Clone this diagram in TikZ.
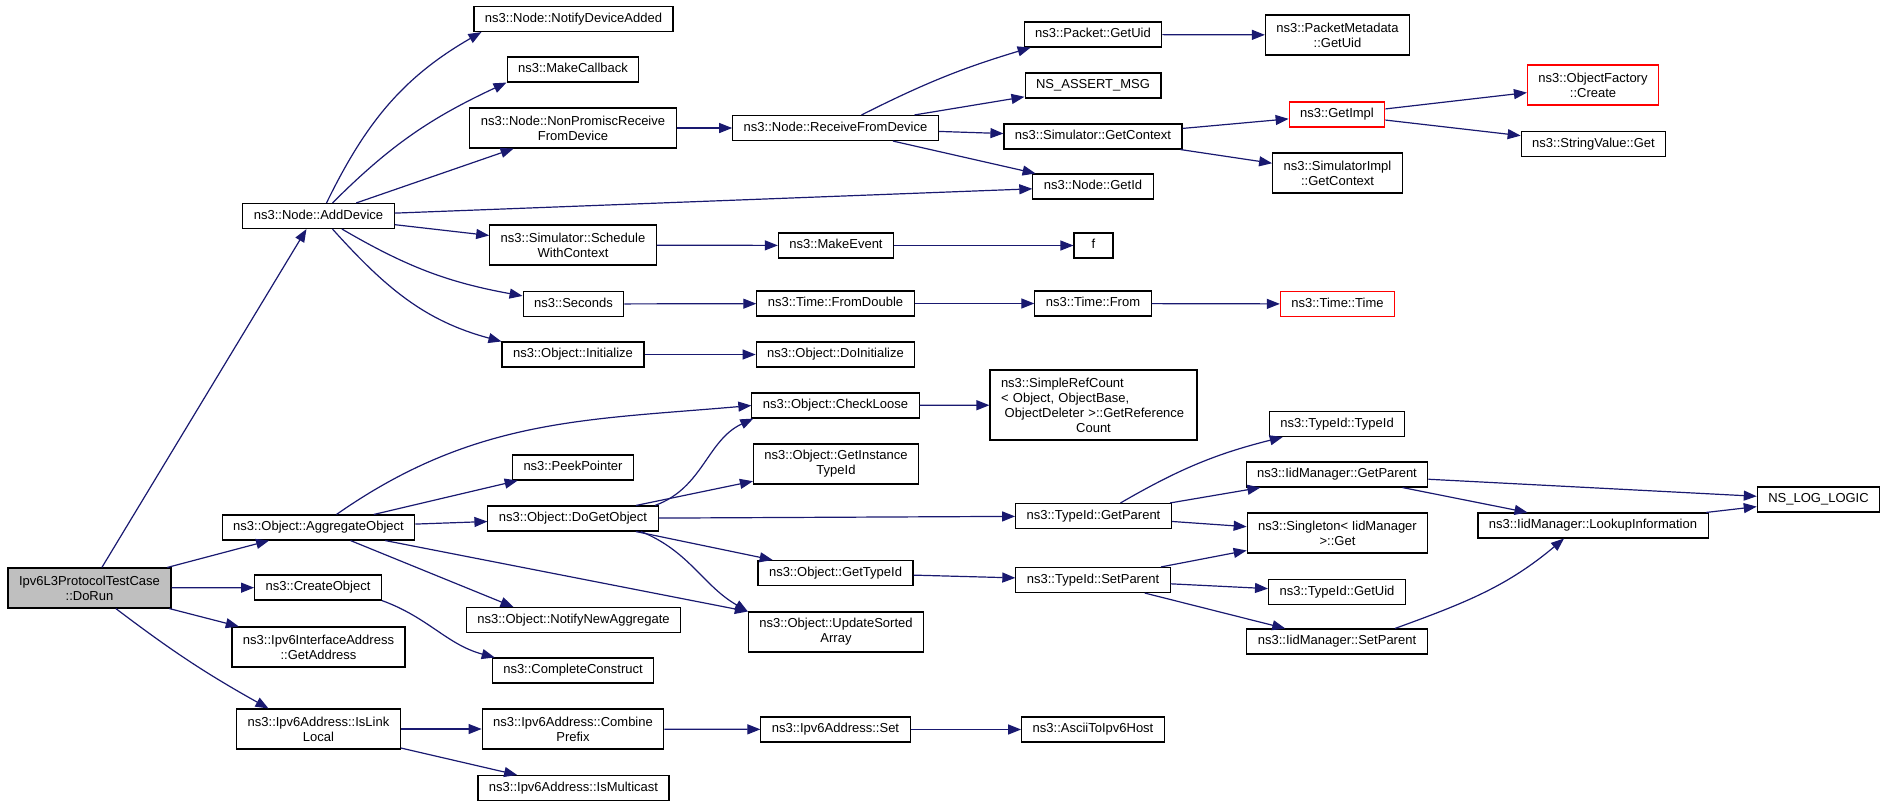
\documentclass[tikz,border=0pt]{standalone}
\usepackage{fontspec}
\newfontfamily\dxfont{Liberation Sans}
\usetikzlibrary{arrows.meta}
\setlength{\parindent}{0pt}
\definecolor{edgeblue}{RGB}{25,25,112}
\definecolor{rootgray}{RGB}{191,191,191}
\tikzset{
  fn/.style={draw=black,line width=1.1pt,fill=white,font=\dxfont\fontsize{13}{15}\selectfont,inner xsep=11pt,inner ysep=2pt,align=center},
  f1/.style={fn,minimum height=25pt,text height=9.5pt,text depth=2.8pt},
  f2/.style={fn,minimum height=40pt},
  cut/.style={draw=red},
  call/.style={draw=edgeblue,line width=1.2pt,-{Triangle[length=13pt,width=10pt]}}
}
\begin{document}
\begin{tikzpicture}[x=1pt,y=1pt]
\useasboundingbox (0,0) rectangle (1885,-807);
\node[f2,fill=rootgray] (dorun) at (89.5,-588) {Ipv6L3ProtocolTestCase\\::DoRun};
\node[f1] (adddevice) at (318.5,-216) {ns3::Node::AddDevice};
\node[f1] (aggregate) at (318.5,-527.5) {ns3::Object::AggregateObject};
\node[f1] (createobject) at (318,-587.5) {ns3::CreateObject};
\node[f2] (getaddress) at (318.5,-647) {ns3::Ipv6InterfaceAddress\\::GetAddress};
\node[f2] (islinklocal) at (318.5,-729) {ns3::Ipv6Address::IsLink\\Local};
\node[f1] (notifyadded) at (573.5,-19) {ns3::Node::NotifyDeviceAdded};
\node[f1] (makecallback) at (573,-69.5) {ns3::MakeCallback};
\node[f2] (nonpromisc) at (573,-128) {ns3::Node::NonPromiscReceive\\FromDevice};
\node[f2] (schedule) at (573,-245) {ns3::Simulator::Schedule\\WithContext};
\node[f1] (seconds) at (573.5,-304) {ns3::Seconds};
\node[f1] (initialize) at (573,-354.5) {ns3::Object::Initialize};
\node[f1] (peekpointer) at (573,-467.5) {ns3::PeekPointer};
\node[f1] (dogetobject) at (573,-518.5) {ns3::Object::DoGetObject};
\node[f1] (notifynew) at (573.5,-620) {ns3::Object::NotifyNewAggregate};
\node[f1] (completeconstruct) at (573,-670.5) {ns3::CompleteConstruct};
\node[f2] (combineprefix) at (573,-729) {ns3::Ipv6Address::Combine\\Prefix};
\node[f1] (ismulticast) at (573.5,-788) {ns3::Ipv6Address::IsMulticast};
\node[f1] (receivefromdevice) at (835.5,-128) {ns3::Node::ReceiveFromDevice};
\node[f1] (makeevent) at (836,-245.5) {ns3::MakeEvent};
\node[f1] (fromdouble) at (835.5,-303.5) {ns3::Time::FromDouble};
\node[f1] (doinitialize) at (835.5,-354.5) {ns3::Object::DoInitialize};
\node[f1] (checkloose) at (835.5,-405.5) {ns3::Object::CheckLoose};
\node[f2] (getinstancetypeid) at (836,-464) {ns3::Object::GetInstance\\TypeId};
\node[f1] (objgettypeid) at (835.5,-573) {ns3::Object::GetTypeId};
\node[f2] (updatesorted) at (836,-632) {ns3::Object::UpdateSorted\\Array};
\node[f1] (ipv6set) at (835.5,-729.5) {ns3::Ipv6Address::Set};
\node[f1] (packetgetuid) at (1093,-34.5) {ns3::Packet::GetUid};
\node[f1] (nsassert) at (1093,-85.5) {NS\_ASSERT\_MSG};
\node[f1] (simgetcontext) at (1093,-136.5) {ns3::Simulator::GetContext};
\node[f1] (nodegetid) at (1093,-186.5) {ns3::Node::GetId};
\node[f1,minimum width=39pt] (fnf) at (1093.5,-245.5) {f};
\node[f1] (timefrom) at (1093,-303.5) {ns3::Time::From};
\node[fn,minimum height=70pt,text width=185pt,align=left] (simplerefcount) at (1093.5,-405) {ns3::SimpleRefCount\\< Object, ObjectBase,\\\hspace*{0.28em}ObjectDeleter >::GetReference\\\makebox[\hsize]{Count}};
\node[f1] (typeidgetparent) at (1093.5,-516) {ns3::TypeId::GetParent};
\node[f1] (typeidsetparent) at (1093,-580) {ns3::TypeId::SetParent};
\node[f1] (asciitoipv6) at (1093,-729.5) {ns3::AsciiToIpv6Host};
\node[f2] (metadatagetuid) at (1337.5,-35) {ns3::PacketMetadata\\::GetUid};
\node[f1,cut] (getimpl) at (1337,-114.5) {ns3::GetImpl};
\node[f2] (simimplgetcontext) at (1337.5,-173) {ns3::SimulatorImpl\\::GetContext};
\node[f1,cut] (timetime) at (1337.5,-304) {ns3::Time::Time};
\node[f1] (typeidtypeid) at (1337,-424) {ns3::TypeId::TypeId};
\node[f1] (iidgetparent) at (1337,-474.5) {ns3::IidManager::GetParent};
\node[f2] (singletonget) at (1337.5,-533) {ns3::Singleton< IidManager\\>::Get};
\node[f1] (typeidgetuid) at (1337,-592) {ns3::TypeId::GetUid};
\node[f1] (iidsetparent) at (1337,-641.5) {ns3::IidManager::SetParent};
\node[f2,cut] (objfactorycreate) at (1593,-85) {ns3::ObjectFactory\\::Create};
\node[f1] (stringvalueget) at (1593.5,-144) {ns3::StringValue::Get};
\node[f1] (lookupinfo) at (1593,-525.5) {ns3::IidManager::LookupInformation};
\node[f1] (nsloglogic) at (1818.5,-499.5) {NS\_LOG\_LOGIC};
\foreach \a/\b in {dorun/aggregate,dorun/createobject,dorun/getaddress,
  adddevice/nonpromisc,adddevice/nodegetid,adddevice/schedule,nonpromisc/receivefromdevice,
  receivefromdevice/nsassert,receivefromdevice/simgetcontext,receivefromdevice/nodegetid,
  packetgetuid/metadatagetuid,simgetcontext/getimpl,simgetcontext/simimplgetcontext,
  getimpl/objfactorycreate,getimpl/stringvalueget,schedule/makeevent,makeevent/fnf,
  seconds/fromdouble,fromdouble/timefrom,timefrom/timetime,initialize/doinitialize,
  checkloose/simplerefcount,aggregate/peekpointer,aggregate/dogetobject,
  dogetobject/getinstancetypeid,dogetobject/typeidgetparent,dogetobject/objgettypeid,
  islinklocal/combineprefix,islinklocal/ismulticast,combineprefix/ipv6set,ipv6set/asciitoipv6,
  objgettypeid/typeidsetparent,typeidgetparent/iidgetparent,typeidgetparent/singletonget,
  typeidsetparent/singletonget,typeidsetparent/typeidgetuid,typeidsetparent/iidsetparent,
  iidgetparent/nsloglogic,iidgetparent/lookupinfo,lookupinfo/nsloglogic}
  \draw[call] (\a) -- (\b);
\draw[call] (dorun) -- ([xshift=-12pt]adddevice.south);
\draw[call] (dorun) to[bend right=4] ([xshift=-50pt]islinklocal.north);
\draw[call] ([xshift=8pt]adddevice.north) to[out=64,in=210] ([xshift=8pt]notifyadded.south west);
\draw[call] ([xshift=14pt]adddevice.north) to[out=45,in=205] (makecallback.south west);
\draw[call] (adddevice) to[bend right=10] (seconds);
\draw[call] ([xshift=14pt]adddevice.south) to[out=-48,in=165] (initialize.north west);
\draw[call] ([xshift=26pt]receivefromdevice.north) to[bend left=5] ([xshift=7pt]packetgetuid.south west);
\draw[call] ([xshift=18pt]aggregate.north) to[out=35,in=185] (checkloose.west);
\draw[call] (aggregate) -- ([xshift=-60pt]notifynew.north);
\draw[call] (aggregate) -- (updatesorted.north west);
\draw[call] ([xshift=82pt]dogetobject.north) to[out=20,in=205] ([xshift=2pt]checkloose.south west);
\draw[call] ([xshift=68pt]dogetobject.south) to[out=-22,in=150] (updatesorted.north west);
\draw[call] (createobject.south east) to[out=-20,in=165] ([xshift=3pt]completeconstruct.north west);
\draw[call] ([xshift=27pt]typeidgetparent.north) to[bend left=8] ([xshift=14pt]typeidtypeid.south west);
\draw[call] ([xshift=58pt]iidsetparent.north) to[out=20,in=-140] ([xshift=-29pt]lookupinfo.south);
\end{tikzpicture}
\end{document}
